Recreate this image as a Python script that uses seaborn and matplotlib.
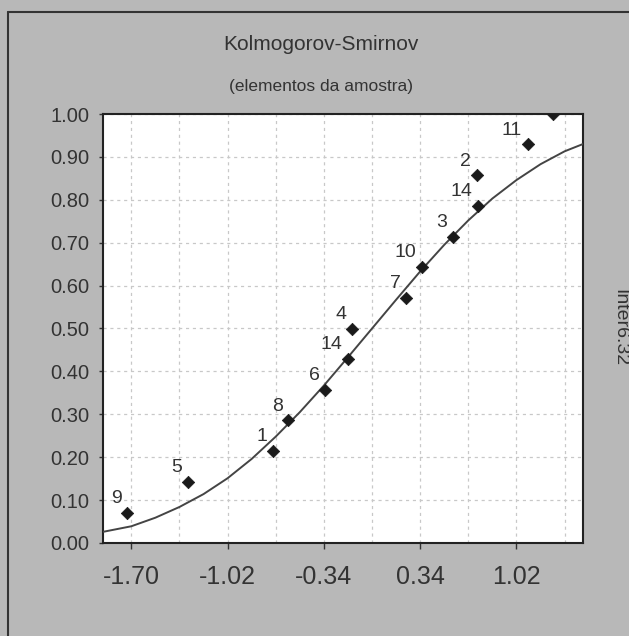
import matplotlib
matplotlib.use("Agg")
import matplotlib.pyplot as plt
import pandas as pd
import seaborn as sns
from matplotlib.lines import Line2D
from matplotlib.ticker import MultipleLocator, FixedLocator


point_x = [-1.73, -1.30, -0.70, -0.59, -0.33, -0.17, -0.14, 0.24, 0.35, 0.57, 0.75, 0.74, 1.10, 1.28]
point_y = [0.071, 0.143, 0.214, 0.286, 0.357, 0.429, 0.500, 0.571, 0.643, 0.714, 0.786, 0.857, 0.929, 1.000]
point_labels = ["9", "5", "1", "8", "6", "14", "4", "7", "10", "3", "14", "2", "11", ""]

# theoretical curve, values
curve_x = [-1.90, -1.70, -1.53, -1.36, -1.19, -1.02, -0.85, -0.68, -0.51, -0.34, -0.17,
           0.00, 0.17, 0.34, 0.51, 0.68, 0.85, 1.02, 1.19, 1.36, 1.49]
curve_y = [0.026, 0.039, 0.059, 0.084, 0.114, 0.151, 0.196, 0.248, 0.305, 0.367, 0.433,
           0.500, 0.567, 0.633, 0.695, 0.752, 0.803, 0.846, 0.883, 0.913, 0.930]

x_ticks = [-1.70, -1.02, -0.34, 0.34, 1.02]
x_grid = [-1.70, -1.36, -1.02, -0.68, -0.34, 0.00, 0.34, 0.68, 1.02, 1.36]

TITLE = "Kolmogorov-Smirnov"
SUBTITLE = "(elementos da amostra)"
SIDE_TEXT = "Inter6.32"

BG = "#b8b8b8"
TEXT = "#333333"


def main() -> None:
    sns.set_style("white")
    plt.rcParams["font.family"] = ["Liberation Sans", "DejaVu Sans"]

    points = pd.DataFrame({"x": point_x, "y": point_y, "label": point_labels})
    curve = pd.DataFrame({"x": curve_x, "y": curve_y})

    fig = plt.figure(figsize=(6.29, 6.36), dpi=100)
    fig.patch.set_facecolor(BG)
    ax = fig.add_axes([103 / 629, 93 / 636, 480 / 629, 429 / 636])
    ax.set_facecolor("white")

    sns.lineplot(data=curve, x="x", y="y", ax=ax, color="#444444", linewidth=1.4, zorder=3)
    sns.scatterplot(data=points, x="x", y="y", ax=ax, marker="D", s=40,
                    color="#1a1a1a", edgecolor="#1a1a1a", zorder=4, clip_on=True)

    for _, row in points.iterrows():
        if row["label"]:
            ax.annotate(row["label"], (row["x"], row["y"]), xytext=(-4, 7),
                        textcoords="offset points", ha="right", va="baseline",
                        fontsize=14, color=TEXT, zorder=5)

    ax.set_xlim(-1.90, 1.49)
    ax.set_ylim(0, 1)
    ax.xaxis.set_major_locator(FixedLocator(x_ticks))
    ax.xaxis.set_minor_locator(FixedLocator(x_grid))
    ax.yaxis.set_major_locator(MultipleLocator(0.1))
    ax.set_xticklabels([f"{v:.2f}" for v in x_ticks])
    ax.set_yticklabels([f"{v:.2f}" for v in ax.get_yticks()])

    ax.grid(False)
    for xv in x_grid:
        ax.axvline(xv, color="#c8c8c8", linestyle=(0, (2.5, 3)), linewidth=0.9, zorder=1)
    for yv in ax.get_yticks()[1:-1]:
        ax.axhline(yv, color="#c8c8c8", linestyle=(0, (2.5, 3)), linewidth=0.9, zorder=1)

    ax.tick_params(axis="x", which="major", length=4, width=1, color="#333333",
                   labelsize=18, labelcolor=TEXT, pad=12, direction="out", bottom=True)
    ax.tick_params(axis="x", which="minor", length=0)
    ax.tick_params(axis="y", length=3, width=1, color="#333333",
                   labelsize=14.5, labelcolor=TEXT, pad=7, direction="out", left=True)

    for spine in ax.spines.values():
        spine.set_visible(True)
        spine.set_color("#222222")
        spine.set_linewidth(1.5)

    ax.set_xlabel("")
    ax.set_ylabel("")

    fig.text(321 / 629, 1 - 44 / 636, TITLE, ha="center", va="center",
             fontsize=15, color=TEXT)
    fig.text(321 / 629, 1 - 86 / 636, SUBTITLE, ha="center", va="center",
             fontsize=12.5, color=TEXT)
    fig.text(620 / 629, 1 - 328 / 636, SIDE_TEXT, ha="center", va="center",
             rotation=-90, fontsize=14, color=TEXT)

    # outer frame of the original chart window
    fig.add_artist(Line2D([8 / 629, 1], [1 - 12 / 636, 1 - 12 / 636],
                          transform=fig.transFigure, color="#333333", linewidth=1.5))
    fig.add_artist(Line2D([8 / 629, 8 / 629], [0, 1 - 12 / 636],
                          transform=fig.transFigure, color="#333333", linewidth=1.5))

    fig.savefig("out.png", dpi=100, facecolor=BG)
    plt.close(fig)


if __name__ == "__main__":
    main()
